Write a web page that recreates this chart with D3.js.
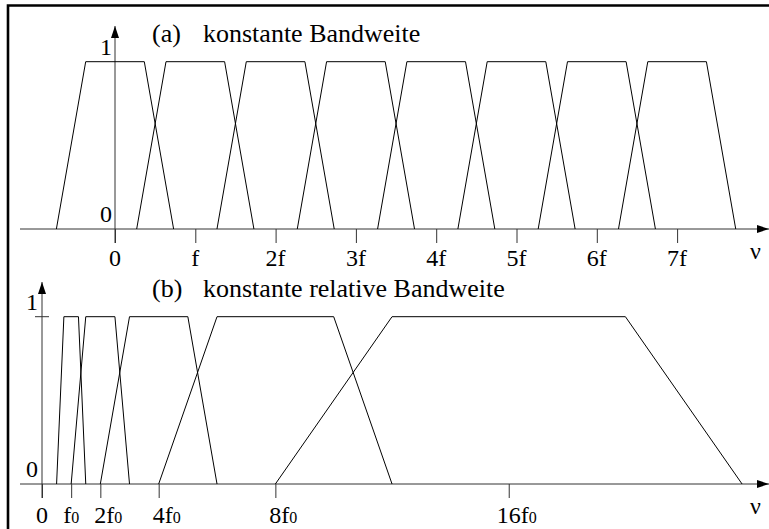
<!DOCTYPE html>
<html>
<head>
<meta charset="utf-8">
<script src="https://cdn.jsdelivr.net/npm/d3@7"></script>
<style>
  body { margin: 0; background: #fff; }
  text { font-family: "Liberation Serif", "Times New Roman", serif; fill: #000; }
</style>
</head>
<body>
<svg id="chart" width="769" height="529"></svg>
<script>
// (a) constant bandwidth: filter centres in multiples of f
const centresA = [0, 1, 2, 3, 4, 5, 6, 7];
// corner offsets of each passband (in units of f, added to the centre)
const cornersA = [-0.73, -0.365, 0.365, 0.73];
const ticksA = [0, 1, 2, 3, 4, 5, 6, 7];
const tickLabelsA = ["0", "f", "2f", "3f", "4f", "5f", "6f", "7f"];
const titleA = ["(a)", "konstante Bandweite"];

// (b) constant relative bandwidth: filter centres in multiples of f0
const centresB = [1, 2, 4, 8, 16];
// corner factors of each passband (multiplied with the centre)
const cornersB = [0.5, 0.75, 1.25, 1.5];
const ticksB = [0, 1, 2, 4, 8, 16];
const tickLabelsB = ["0", "f0", "2f0", "4f0", "8f0", "16f0"];
const titleB = ["(b)", "konstante relative Bandweite"];

// response level at the four corners of a passband
const levels = [0, 1, 1, 0];
const yTickValues = [0, 1];

const svg = d3.select("#chart");
const axisColor = "#333";
const labelSize = 24;
const titleSize = 26;

// arrowhead marker for the axes
svg.append("defs").append("marker")
  .attr("id", "arrow")
  .attr("viewBox", "0 0 12 8")
  .attr("refX", 12).attr("refY", 4)
  .attr("markerWidth", 12).attr("markerHeight", 8)
  .attr("markerUnits", "userSpaceOnUse")
  .attr("orient", "auto")
  .append("path").attr("d", "M0,0 L12,4 L0,8 Z").attr("fill", "#000");

// frame (top and left edges)
svg.append("path")
  .attr("d", "M8,529 L8,5.5 L769,5.5")
  .attr("fill", "none").attr("stroke", "#000").attr("stroke-width", 2.6);

// scales
const xA = d3.scaleLinear().domain([0, 7]).range([115, 115 + 7 * 80.3]);
const yA = d3.scaleLinear().domain([0, 1]).range([229, 61.7]);
const xB = d3.scaleLinear().domain([0, 24]).range([42, 42 + 24 * 29.17]);
const yB = d3.scaleLinear().domain([0, 1]).range([484, 316.7]);

function panel(cfg) {
  const g = svg.append("g");
  const { x, y } = cfg;

  // horizontal axis with arrow
  g.append("line")
    .attr("x1", 20).attr("x2", 769)
    .attr("y1", y(0)).attr("y2", y(0))
    .attr("stroke", axisColor).attr("stroke-width", 1)
    .attr("marker-end", "url(#arrow)");
  // vertical axis with arrow
  g.append("line")
    .attr("x1", x(0)).attr("x2", x(0))
    .attr("y1", y(0) + 14).attr("y2", cfg.arrowTop)
    .attr("stroke", axisColor).attr("stroke-width", 1)
    .attr("marker-end", "url(#arrow)");

  // ticks below the horizontal axis
  const xAxis = d3.axisBottom(x)
    .tickValues(cfg.ticks)
    .tickSize(14)
    .tickSizeOuter(0)
    .tickFormat("");
  const ax = g.append("g")
    .attr("transform", `translate(0,${y(0)})`)
    .call(xAxis);
  ax.select(".domain").remove();
  ax.selectAll(".tick line").attr("stroke", axisColor);

  // tick labels
  cfg.ticks.forEach((t, i) => cfg.label(g, x(t), cfg.tickLabels[i]));

  // level labels on the vertical axis
  yTickValues.forEach(v => {
    g.append("text")
      .attr("x", x(0) - cfg.levelDx)
      .attr("y", y(v) - 7)
      .attr("text-anchor", "end")
      .attr("font-size", labelSize)
      .text(String(v));
  });

  // passbands
  const line = d3.line().x(d => x(d[0])).y(d => y(d[1]));
  g.selectAll("path.band")
    .data(cfg.centres)
    .join("path")
    .attr("class", "band")
    .attr("d", c => line(cfg.corners(c).map((f, k) => [f, levels[k]])))
    .attr("fill", "none")
    .attr("stroke", "#000")
    .attr("stroke-width", 1);

  // title
  const tt = g.append("text").attr("font-size", titleSize).attr("y", cfg.titleY);
  tt.append("tspan").attr("x", 152).text(cfg.title[0]);
  tt.append("tspan").attr("x", 203).text(cfg.title[1]);

  // axis variable
  g.append("text")
    .attr("x", 750).attr("y", y(0) + 30)
    .attr("font-size", labelSize)
    .text("\u03bd");

  return g;
}

// panel (a)
panel({
  x: xA, y: yA,
  arrowTop: 26,
  ticks: ticksA, tickLabels: tickLabelsA,
  centres: centresA,
  corners: c => cornersA.map(o => c + o),
  levelDx: 3,
  title: titleA, titleY: 42,
  label: (g, px, s) => g.append("text")
    .attr("x", px).attr("y", 266)
    .attr("text-anchor", "middle")
    .attr("font-size", labelSize)
    .text(s)
});

// panel (b)
const gB = panel({
  x: xB, y: yB,
  arrowTop: 282,
  ticks: ticksB, tickLabels: tickLabelsB,
  centres: centresB,
  corners: c => cornersB.map(r => c * r),
  levelDx: 4,
  title: titleB, titleY: 297,
  label: (g, px, s) => {
    const m = s.match(/^(\d*)f0$/);
    const t = g.append("text").attr("y", 523).attr("font-size", labelSize);
    if (!m) {
      t.attr("x", px).attr("text-anchor", "middle").text(s);
      return;
    }
    const pre = t.append("tspan").text(m[1]);
    t.append("tspan").text("f");
    t.append("tspan").attr("font-size", 16).text("0");
    const w = m[1] ? pre.node().getComputedTextLength() : t.node().getComputedTextLength();
    t.attr("x", px - w / 2);
  }
});

// small level mark at 1 on the vertical axis of (b)
gB.append("line")
  .attr("x1", xB(0) - 7).attr("x2", xB(0) + 7)
  .attr("y1", yB(1)).attr("y2", yB(1))
  .attr("stroke", axisColor).attr("stroke-width", 1);
</script>
</body>
</html>
